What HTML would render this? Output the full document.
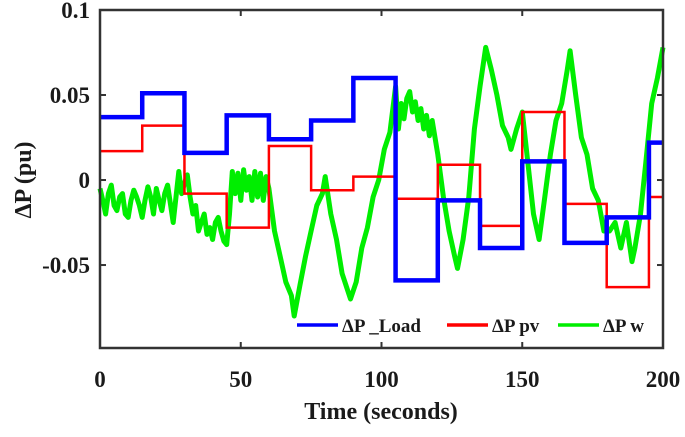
<!DOCTYPE html>
<html><head><meta charset="utf-8"><style>
html,body{margin:0;padding:0;background:#fff;}
svg text{font-family:"Liberation Serif",serif;font-weight:bold;fill:#1a1a1a;}
</style></head><body>
<svg id="chart" width="685" height="432"></svg>
<script>
const stepTimes=[0,15,30,45,60,75,90,105,120,135,150,165,180,195,200];
const loadVals=[0.037,0.051,0.016,0.038,0.024,0.035,0.060,-0.059,-0.012,-0.040,0.011,-0.037,-0.022,0.022];
const pvVals=[0.017,0.032,-0.008,-0.028,0.020,-0.006,0.002,-0.011,0.009,-0.027,0.040,-0.014,-0.063,-0.010];
const windT=[0,1,2,3,4,5,6,7,8,9,10,11,12,13,14,15,16,17,18,19,20,21,22,23,24,25,26,27,28,29,30,31,32,33,34,35,36,37,38,39,40,41,42,43,44,45,46,47,48,49,50,51,52,53,54,55,56,57,58,59,60,62,64,66,68,69,71,73,75,77,79,80,82,84,86,88,89,91,93,95,97,99,101,103,105,106,107,108,109,110,111,112,113,114,115,116,117,118,120,122,124,126,127,129,131,133,135,137,139,141,143,145,146,148,150,152,154,156,158,160,162,164,166,167,169,171,173,175,177,179,181,183,185,187,189,190,192,194,196,198,200];
const windV=[-0.005,-0.012,-0.02,-0.008,-0.003,-0.015,-0.018,-0.01,-0.008,-0.02,-0.022,-0.012,-0.006,-0.01,-0.015,-0.022,-0.012,-0.004,-0.01,-0.02,-0.005,-0.012,-0.018,-0.008,-0.003,-0.014,-0.025,-0.01,0.005,-0.008,-0.002,0.003,-0.01,-0.02,-0.015,-0.03,-0.025,-0.02,-0.032,-0.028,-0.035,-0.025,-0.022,-0.03,-0.036,-0.038,-0.02,0.005,-0.008,0.004,-0.012,0.006,-0.006,0.002,-0.012,0.005,-0.01,0.004,-0.012,0.002,-0.005,-0.03,-0.045,-0.06,-0.068,-0.08,-0.062,-0.045,-0.03,-0.015,-0.008,0.002,-0.02,-0.035,-0.055,-0.065,-0.07,-0.06,-0.04,-0.028,-0.01,0.0,0.018,0.028,0.055,0.03,0.045,0.036,0.048,0.052,0.04,0.046,0.035,0.042,0.03,0.038,0.026,0.035,0.015,-0.01,-0.03,-0.045,-0.052,-0.035,-0.01,0.03,0.055,0.078,0.065,0.05,0.032,0.025,0.018,0.03,0.04,0.01,-0.02,-0.035,-0.01,0.015,0.035,0.045,0.065,0.076,0.05,0.025,0.015,-0.005,-0.012,-0.03,-0.03,-0.025,-0.04,-0.025,-0.048,-0.04,-0.02,0.012,0.045,0.06,0.078];
const xTicks=[0,50,100,150,200];
const yTicks=[0.1,0.05,0,-0.05];
const yTickLabels=["0.1","0.05","0","-0.05"];

const L=100,R=663,T=10,B=348,ymax=0.1,ymin=-0.0988;
const X=t=>L+(t-0)/(200-0)*(R-L);
const Y=v=>T+(ymax-v)/(ymax-ymin)*(B-T);
const svg=document.getElementById('chart');
const NS='http://www.w3.org/2000/svg';
function mk(tag,attrs){const e=document.createElementNS(NS,tag);for(const k in attrs)e.setAttribute(k,attrs[k]);svg.appendChild(e);return e;}

function stepPath(vals){let d='';for(let i=0;i<vals.length;i++){const y=Y(vals[i]);d+=(i?'L':'M')+X(stepTimes[i])+','+y+'L'+X(stepTimes[i+1])+','+y;}return d;}

let wd='';windT.forEach((t,i)=>{wd+=(i?'L':'M')+X(t).toFixed(1)+','+Y(windV[i]).toFixed(1);});
let e;
e=mk('path',{d:wd,fill:'none',stroke:'#00ee00','stroke-width':5,'stroke-linejoin':'round'});


e=mk('path',{d:stepPath(pvVals),fill:'none',stroke:'#ff0000','stroke-width':2.5});


e=mk('path',{d:stepPath(loadVals),fill:'none',stroke:'#0000ff','stroke-width':4.5});



e=mk('rect',{x:L,y:T,width:R-L,height:B-T,fill:'none',stroke:'#333','stroke-width':2.5});



xTicks.forEach(t=>{
  mk('line',{x1:X(t),x2:X(t),y1:B,y2:B-6,stroke:'#333','stroke-width':2});
  mk('line',{x1:X(t),x2:X(t),y1:T,y2:T+6,stroke:'#333','stroke-width':2});
  e=mk('text',{x:X(t),y:B+39,'text-anchor':'middle','font-size':23});
  e.textContent=t;
  
  
});
yTicks.forEach((v,i)=>{
  mk('line',{x1:L,x2:L+6,y1:Y(v),y2:Y(v),stroke:'#333','stroke-width':2});
  mk('line',{x1:R,x2:R-6,y1:Y(v),y2:Y(v),stroke:'#333','stroke-width':2});
  e=mk('text',{x:L-10,y:Y(v)+8,'text-anchor':'end','font-size':23});
  e.textContent=yTickLabels[i];
  
  
});
e=mk('text',{x:381,y:419,'text-anchor':'middle','font-size':24});
e.textContent='Time (seconds)';


e=mk('text',{x:0,y:0,'text-anchor':'middle','font-size':24,transform:'translate(31,180) rotate(-90)'});
e.textContent='ΔP (pu)';



const leg=[['#0000ff',297,'ΔP _Load','legend-entry-load'],['#ff0000',447,'ΔP pv','legend-entry-pv'],['#00ee00',558,'ΔP w','legend-entry-wind']];
leg.forEach(l=>{
  mk('line',{x1:l[1],x2:l[1]+41,y1:325,y2:325,stroke:l[0],'stroke-width':3.5});
  e=mk('text',{x:l[1]+45,y:332,'font-size':19});
  e.textContent=l[2];
  
  
});
</script>
</body></html>
